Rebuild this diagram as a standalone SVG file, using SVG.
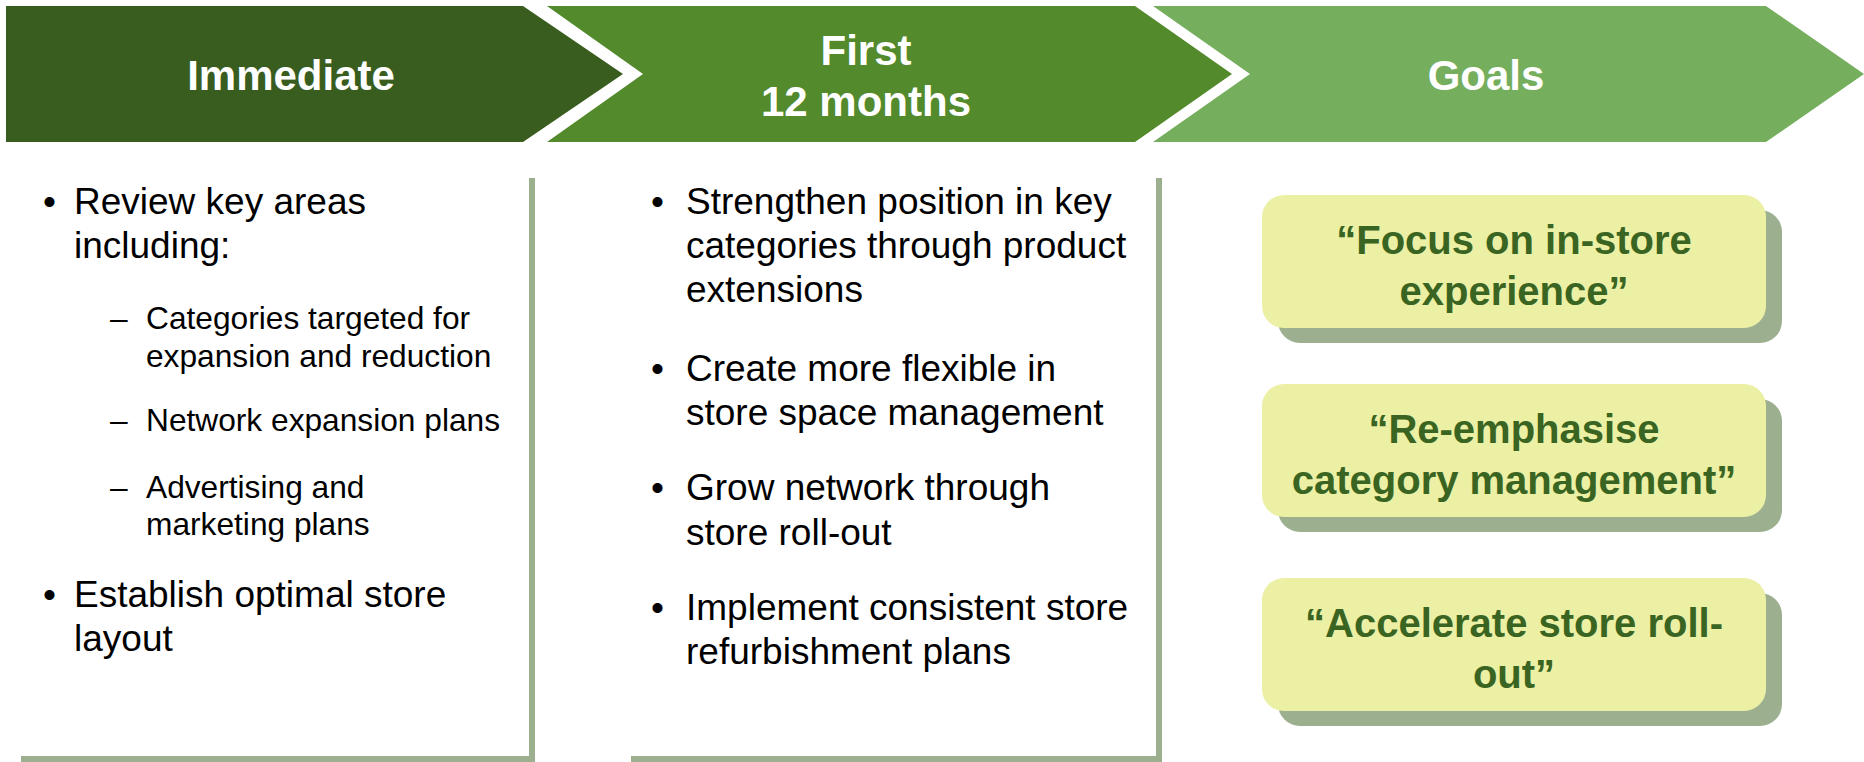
<svg xmlns="http://www.w3.org/2000/svg" width="1864" height="762" viewBox="0 0 1864 762">
<style>
.hdr{font-family:"Liberation Sans",Arial,sans-serif;font-weight:bold;font-size:42px;fill:#ffffff;text-anchor:middle}
.body{font-family:"Liberation Sans",Arial,sans-serif;font-size:37px;fill:#000000}
.sub{font-family:"Liberation Sans",Arial,sans-serif;font-size:31.7px;fill:#000000}
.goal{font-family:"Liberation Sans",Arial,sans-serif;font-weight:bold;font-size:40px;fill:#3A6421;text-anchor:middle}
.pshadow{fill:#9CB08F}
.panel{fill:#ffffff}
.gshadow{fill:#9CAF8F}
.gbox{fill:#ECF0A4}
</style>
<rect width="1864" height="762" fill="#ffffff"/>
<g id="hdr-immediate">
<path d="M6,6 L523,6 L623,74 L523,142 L6,142 Z" fill="#395D1F"/>
<text class="hdr" x="291" y="90">Immediate</text>
</g>
<g id="hdr-first12">
<path d="M547,6 L1135,6 L1232,74 L1135,142 L547,142 L643,74 Z" fill="#538A2C"/>
<text class="hdr" x="866" y="65">First</text>
<text class="hdr" x="866" y="116">12 months</text>
</g>
<g id="hdr-goals">
<path d="M1153,6 L1766,6 L1864,74 L1766,142 L1153,142 L1250,74 Z" fill="#75AE5D"/>
<text class="hdr" x="1486" y="90">Goals</text>
</g>
<g id="panel-immediate">
<rect class="pshadow" x="21" y="178" width="514" height="584"/>
<rect class="panel" x="15" y="172" width="514" height="584"/>
<text class="body" x="43" y="214">•</text>
<text class="body" x="74" y="214">Review key areas</text>
<text class="body" x="74" y="258">including:</text>
<text class="sub" x="110" y="329">–</text>
<text class="sub" x="146" y="329">Categories targeted for</text>
<text class="sub" x="146" y="367">expansion and reduction</text>
<text class="sub" x="110" y="431">–</text>
<text class="sub" x="146" y="431">Network expansion plans</text>
<text class="sub" x="110" y="498">–</text>
<text class="sub" x="146" y="498">Advertising and</text>
<text class="sub" x="146" y="535">marketing plans</text>
<text class="body" x="43" y="607">•</text>
<text class="body" x="74" y="607">Establish optimal store</text>
<text class="body" x="74" y="651">layout</text>
</g>
<g id="panel-first12">
<rect class="pshadow" x="631" y="178" width="531" height="584"/>
<rect class="panel" x="625" y="172" width="531" height="584"/>
<text class="body" x="651" y="214">•</text>
<text class="body" x="686" y="214">Strengthen position in key</text>
<text class="body" x="686" y="258">categories through product</text>
<text class="body" x="686" y="302">extensions</text>
<text class="body" x="651" y="381">•</text>
<text class="body" x="686" y="381">Create more flexible in</text>
<text class="body" x="686" y="425">store space management</text>
<text class="body" x="651" y="500">•</text>
<text class="body" x="686" y="500">Grow network through</text>
<text class="body" x="686" y="545">store roll-out</text>
<text class="body" x="651" y="620">•</text>
<text class="body" x="686" y="620">Implement consistent store</text>
<text class="body" x="686" y="664">refurbishment plans</text>
</g>
<g id="goal-1">
<rect class="gshadow" x="1278" y="210" width="504" height="133" rx="22"/>
<rect class="gbox" x="1262" y="195" width="504" height="133" rx="22"/>
<text class="goal" x="1514" y="254">“Focus on in-store</text>
<text class="goal" x="1514" y="305">experience”</text>
</g>
<g id="goal-2">
<rect class="gshadow" x="1278" y="399" width="504" height="133" rx="22"/>
<rect class="gbox" x="1262" y="384" width="504" height="133" rx="22"/>
<text class="goal" x="1514" y="443">“Re-emphasise</text>
<text class="goal" x="1514" y="494">category management”</text>
</g>
<g id="goal-3">
<rect class="gshadow" x="1278" y="593" width="504" height="133" rx="22"/>
<rect class="gbox" x="1262" y="578" width="504" height="133" rx="22"/>
<text class="goal" x="1514" y="637">“Accelerate store roll-</text>
<text class="goal" x="1514" y="688">out”</text>
</g>
<g id="connectors"></g>
</svg>
